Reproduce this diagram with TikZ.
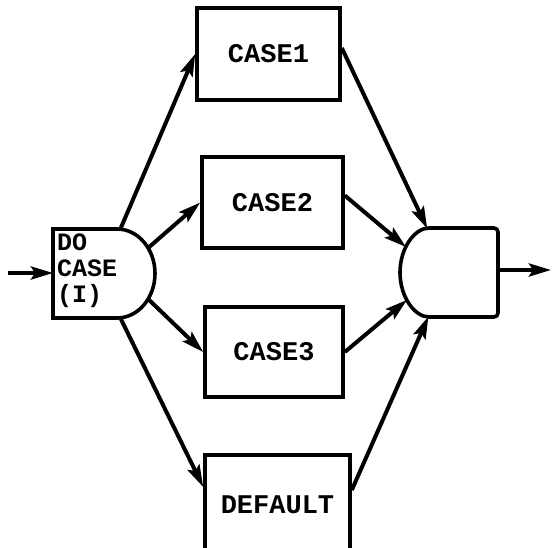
\documentclass[tikz,border=0pt]{standalone}
\usepackage{fontspec}
\setmonofont{Liberation Mono}
\usetikzlibrary{arrows.meta,positioning}

\begin{document}
\begin{tikzpicture}[x=1pt,y=-1pt,
  casebox/.style={draw,line width=3.6pt,inner sep=0pt,
    font=\ttfamily\bfseries\fontsize{27}{27}\selectfont},
  flow/.style={line width=4pt,-{Stealth[length=22pt,width=13pt,inset=4pt]}},
  outline/.style={line width=3.6pt}]
  \clip (0,0) rectangle (552,548);

  % the four branches
  \foreach \nm/\txt/\cx/\cy/\w/\h in {case1/CASE1/268.5/54/143/92,
      case2/CASE2/272.5/202.5/141/91, case3/CASE3/274/352/138/90,
      default/DEFAULT/277.5/505/145/100}
    \node[casebox,minimum width=\w pt,minimum height=\h pt] (\nm) at (\cx,\cy) {\txt};

  % DO CASE head
  \coordinate (dcc) at (117,273.5);
  \draw[outline] (53,229) -- (117,229)
    arc[start angle=-90,end angle=90,x radius=38,y radius=44.5] -- (53,318) -- cycle;
  \node[anchor=north west,align=left,inner sep=0pt,
    font=\ttfamily\bfseries\fontsize{25}{26}\selectfont] (docase) at (57,234) {DO\\CASE\\(I)};
  \coordinate (dcin) at (53,273);
  \coordinate (start) at (8,273);
  \path (dcc) ++(-85:38 and 44.5) coordinate (dc1)
        (dcc) ++(-35:38 and 44.5) coordinate (dc2)
        (dcc) ++(35:38 and 44.5) coordinate (dc3)
        (dcc) ++(85:38 and 44.5) coordinate (dc4);

  % merge
  \coordinate (mc) at (433,272.5);
  \draw[outline,rounded corners=4pt] (498,228) -- (433,228)
    arc[start angle=-90,end angle=-270,x radius=33,y radius=44.5] -- (498,317) -- cycle;
  \path (mc) ++(-100:33 and 44.5) coordinate (m1)
        (mc) ++(-145:33 and 44.5) coordinate (m2)
        (mc) ++(142:33 and 44.5) coordinate (m3)
        (mc) ++(98:33 and 44.5) coordinate (m4);
  \coordinate (mout) at (498,270);
  \coordinate (finish) at (551,270);

  \draw[flow] (start) -- (dcin);
  \draw[flow] (dc1) -- (case1.west);
  \draw[flow] (dc2) -- (case2.west);
  \draw[flow] (dc3) -- (case3.west);
  \draw[flow] (dc4) -- ([yshift=18pt]default.west);
  \draw[flow] ([yshift=6pt]case1.east) -- (m1);
  \draw[flow] ([yshift=7pt]case2.east) -- (m2);
  \draw[flow] (case3.east) -- (m3);
  \draw[flow] ([yshift=15pt]default.east) -- (m4);
  \draw[flow] (mout) -- (finish);
\end{tikzpicture}
\end{document}
